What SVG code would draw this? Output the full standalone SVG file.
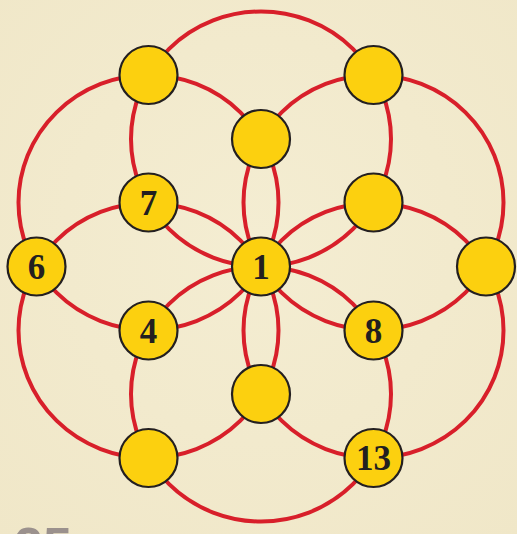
<svg xmlns="http://www.w3.org/2000/svg" width="517" height="534" viewBox="0 0 517 534">
  <defs>
    <radialGradient id="bg" cx="50%" cy="45%" r="75%">
      <stop offset="0" stop-color="#f4edd2"/>
      <stop offset="1" stop-color="#f0e7c8"/>
    </radialGradient>
  </defs>
  <style>
    .arc { fill: none; stroke: #d81f2a; stroke-width: 4; }
    .node circle { fill: #fcd00f; stroke: #231f20; stroke-width: 2.2; }
    .node text { font-family: "Liberation Serif", "DejaVu Serif", serif; font-weight: bold; font-size: 35px; fill: #231f20; text-anchor: middle; }
  </style>
  <rect width="517" height="534" fill="url(#bg)"/>
  <g id="connectors">
    <ellipse class="arc" cx="261" cy="139" rx="130" ry="127.5"/>
    <ellipse class="arc" cx="261" cy="394" rx="130" ry="127.5"/>
    <ellipse class="arc" cx="148.5" cy="202.5" rx="130" ry="127.5"/>
    <ellipse class="arc" cx="373.5" cy="202.5" rx="130" ry="127.5"/>
    <ellipse class="arc" cx="148.5" cy="330.5" rx="130" ry="127.5"/>
    <ellipse class="arc" cx="373.5" cy="330.5" rx="130" ry="127.5"/>
  </g>
  <g id="n-top-left" class="node"><circle cx="148.5" cy="75" r="29"/></g>
  <g id="n-top-right" class="node"><circle cx="373.5" cy="75" r="29"/></g>
  <g id="n-top-center" class="node"><circle cx="261" cy="139" r="29"/></g>
  <g id="n-7" class="node"><circle cx="148.5" cy="202.5" r="29"/><text x="148.5" y="214.5">7</text></g>
  <g id="n-upper-right" class="node"><circle cx="373.5" cy="202.5" r="29"/></g>
  <g id="n-6" class="node"><circle cx="36.5" cy="266.5" r="29"/><text x="36.5" y="278.5">6</text></g>
  <g id="n-1" class="node"><circle cx="261" cy="266.5" r="29"/><text x="261" y="278.5">1</text></g>
  <g id="n-right" class="node"><circle cx="486" cy="266.5" r="29"/></g>
  <g id="n-4" class="node"><circle cx="148.5" cy="330.5" r="29"/><text x="148.5" y="342.5">4</text></g>
  <g id="n-8" class="node"><circle cx="373.5" cy="330.5" r="29"/><text x="373.5" y="342.5">8</text></g>
  <g id="n-bottom-center" class="node"><circle cx="261" cy="394" r="29"/></g>
  <g id="n-bottom-left" class="node"><circle cx="148.5" cy="458" r="29"/></g>
  <g id="n-13" class="node"><circle cx="373.5" cy="458" r="29"/><text x="373.5" y="470">13</text></g>
  <text x="14" y="564" font-family="Liberation Sans, Arial, sans-serif" font-weight="bold" font-size="52" fill="#9b918d">25</text>
</svg>
